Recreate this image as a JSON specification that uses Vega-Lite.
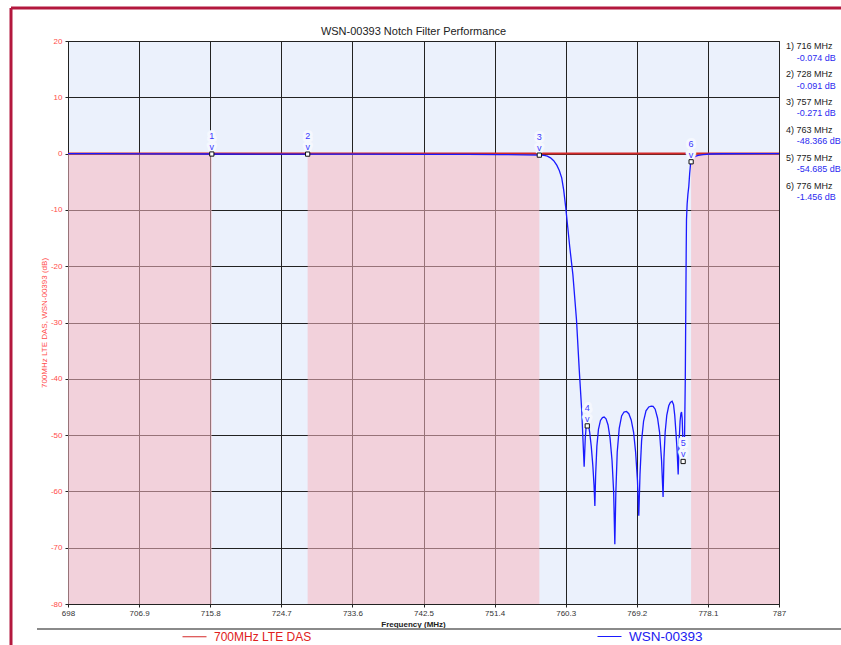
{
  "$schema": "https://vega.github.io/schema/vega-lite/v6.json",
  "width": 711,
  "height": 563,
  "autosize": {"type": "none"},
  "padding": {"left": 68, "top": 41, "right": 62, "bottom": 41},
  "background": "white",
  "config": {
    "font": "Liberation Sans",
    "view": {"stroke": "#222222", "strokeWidth": 1, "fill": "#ebf1fc"}
  },
  "title": {
    "text": "WSN-00393 Notch Filter Performance",
    "fontSize": 11,
    "fontWeight": "normal",
    "color": "#222222",
    "font": "Liberation Sans",
    "offset": -30,
    "dx": -10,
    "anchor": "middle"
  },
  "resolve": {"scale": {"y": "independent"}},
  "layer": [
    {
      "layer": [
        {
          "data": {"values": [{"f": 698, "f2": 716}, {"f": 728, "f2": 757}, {"f": 776, "f2": 787}]},
          "mark": {"type": "rect", "fill": "#f8b6c0", "opacity": 0.55},
          "encoding": {
            "x": {
              "field": "f",
              "type": "quantitative",
              "scale": {"domain": [698, 787], "nice": false, "zero": false},
              "axis": {
                "title": "Frequency (MHz)",
                "titleFontSize": 8,
                "titleFontWeight": "bold",
                "titleColor": "#222222",
                "titlePadding": 3,
                "titleX": 345,
                "values": [698, 702.45, 706.9, 711.35, 715.8, 720.25, 724.7, 729.15, 733.6, 738.05, 742.5, 746.95, 751.4, 755.85, 760.3, 764.75, 769.2, 773.65, 778.1, 782.55, 787],
                "labelExpr": "abs((datum.value - 698) / 8.9 - round((datum.value - 698) / 8.9)) < 0.01 ? format(datum.value, '~f') : ''",
                "labelFontSize": 8,
                "labelColor": "#333333",
                "labelPadding": 2,
                "labelFlush": false,
                "labelOverlap": false,
                "tickSize": 3,
                "tickColor": {"condition": {"test": "abs((datum.value - 698) / 8.9 - round((datum.value - 698) / 8.9)) < 0.01", "value": "#222222"}, "value": "transparent"},
                "grid": true,
                "gridColor": {"condition": {"test": "abs((datum.value - 698) / 8.9 - round((datum.value - 698) / 8.9)) < 0.01", "value": "#222222"}, "value": "#c6c6c6"},
                "domain": false
              }
            },
            "x2": {"field": "f2"},
            "y": {
              "datum": 0,
              "type": "quantitative",
              "scale": {"domain": [-80, 20], "nice": false, "zero": false},
              "axis": {
                "title": "700MHz LTE DAS, WSN-00393 (dB)",
                "titleColor": "#ff4b4b",
                "titleFontSize": 8,
                "titleFontWeight": "normal",
                "titlePadding": 2,
                "values": [-80, -75, -70, -65, -60, -55, -50, -45, -40, -35, -30, -25, -20, -15, -10, -5, 0, 5, 10, 15, 20],
                "labelExpr": "datum.value % 10 === 0 ? '' + datum.value : ''",
                "labelColor": "#ff4b4b",
                "labelFontSize": 8,
                "labelPadding": 3,
                "labelOverlap": false,
                "tickSize": 3,
                "tickColor": {"condition": {"test": "datum.value % 10 === 0", "value": "#222222"}, "value": "transparent"},
                "grid": true,
                "gridColor": {"condition": {"test": "datum.value % 10 === 0", "value": "#222222"}, "value": "#c6c6c6"},
                "domain": false
              }
            },
            "y2": {"datum": -80}
          }
        },
        {
          "data": {"values": [{"f": 698, "db": 0}, {"f": 787, "db": 0}]},
          "mark": {"type": "line", "strokeWidth": 2},
          "encoding": {
            "x": {"field": "f", "type": "quantitative"},
            "y": {"field": "db", "type": "quantitative"},
            "color": {
              "datum": "700MHz LTE DAS",
              "type": "nominal",
              "scale": {"domain": ["700MHz LTE DAS", "WSN-00393"], "range": ["#d42a2a", "#1a1aff"]},
              "legend": {
                "orient": "none",
                "legendX": 114,
                "legendY": 583,
                "direction": "horizontal",
                "columns": 2,
                "columnPadding": 283,
                "title": null,
                "symbolType": "stroke",
                "symbolSize": 576,
                "symbolStrokeWidth": 1,
                "labelFontSize": 13,
                "labelOffset": 7,
                "labelFont": "Liberation Sans",
                "encode": {"labels": {"update": {
                  "fill": {"signal": "datum.value === 'WSN-00393' ? '#2020f0' : '#e02020'"},
                  "fontSize": {"signal": "datum.value === 'WSN-00393' ? 13.5 : 12"}
                }}}
              }
            }
          }
        },
        {
          "data": {"values": [
            {"f": 698, "db": 0}, {"f": 702, "db": -0.02}, {"f": 708, "db": -0.04}, {"f": 716, "db": -0.074},
            {"f": 722, "db": -0.08}, {"f": 728, "db": -0.091}, {"f": 735, "db": -0.1}, {"f": 742, "db": -0.12},
            {"f": 748, "db": -0.15}, {"f": 752, "db": -0.18}, {"f": 755, "db": -0.22}, {"f": 757, "db": -0.271},
            {"f": 757.6, "db": -0.32}, {"f": 758.0, "db": -0.45}, {"f": 758.4, "db": -0.75}, {"f": 758.8, "db": -1.25},
            {"f": 759.2, "db": -2.1}, {"f": 759.5, "db": -3.0}, {"f": 759.8, "db": -4.3}, {"f": 760.05, "db": -6.5},
            {"f": 760.3, "db": -9.5}, {"f": 760.55, "db": -13}, {"f": 760.8, "db": -16.5}, {"f": 761.2, "db": -21.5},
            {"f": 761.65, "db": -29.5}, {"f": 762.0, "db": -38.5}, {"f": 762.3, "db": -45.5}, {"f": 762.61, "db": -55.6},
            {"f": 762.75, "db": -50.5}, {"f": 762.88, "db": -48.2}, {"f": 763.0, "db": -47.5}, {"f": 763.12, "db": -47.8},
            {"f": 763.3, "db": -49.5}, {"f": 763.5, "db": -52}, {"f": 763.7, "db": -55.5}, {"f": 763.85, "db": -59},
            {"f": 763.95, "db": -62.6}, {"f": 764.05, "db": -57}, {"f": 764.2, "db": -52}, {"f": 764.4, "db": -49},
            {"f": 764.65, "db": -47.4}, {"f": 764.9, "db": -46.9}, {"f": 765.11, "db": -46.8}, {"f": 765.35, "db": -47.1},
            {"f": 765.6, "db": -48.2}, {"f": 765.85, "db": -50.5}, {"f": 766.1, "db": -54.5}, {"f": 766.3, "db": -60},
            {"f": 766.45, "db": -69.4}, {"f": 766.58, "db": -60}, {"f": 766.75, "db": -53}, {"f": 767.0, "db": -48.8},
            {"f": 767.3, "db": -46.6}, {"f": 767.6, "db": -45.9}, {"f": 767.91, "db": -45.8}, {"f": 768.2, "db": -46.2},
            {"f": 768.5, "db": -47.3}, {"f": 768.8, "db": -49.5}, {"f": 769.05, "db": -53}, {"f": 769.28, "db": -58},
            {"f": 769.45, "db": -64.3}, {"f": 769.6, "db": -57}, {"f": 769.8, "db": -51}, {"f": 770.05, "db": -47.5},
            {"f": 770.35, "db": -45.7}, {"f": 770.7, "db": -45}, {"f": 771.0, "db": -44.85}, {"f": 771.24, "db": -44.9},
            {"f": 771.5, "db": -45.4}, {"f": 771.8, "db": -47}, {"f": 772.05, "db": -49.5}, {"f": 772.3, "db": -54.5},
            {"f": 772.49, "db": -61}, {"f": 772.6, "db": -54}, {"f": 772.75, "db": -49.5}, {"f": 772.95, "db": -46.5},
            {"f": 773.2, "db": -44.8}, {"f": 773.4, "db": -44.2}, {"f": 773.62, "db": -44.0}, {"f": 773.8, "db": -44.6},
            {"f": 773.95, "db": -46.5}, {"f": 774.1, "db": -49.5}, {"f": 774.24, "db": -52.6}, {"f": 774.38, "db": -57},
            {"f": 774.5, "db": -51}, {"f": 774.62, "db": -47.5}, {"f": 774.72, "db": -46.2}, {"f": 774.8, "db": -45.9},
            {"f": 774.88, "db": -47}, {"f": 774.95, "db": -50}, {"f": 775.0, "db": -54.685}, {"f": 775.1, "db": -53},
            {"f": 775.18, "db": -50}, {"f": 775.27, "db": -40}, {"f": 775.33, "db": -28}, {"f": 775.38, "db": -18},
            {"f": 775.42, "db": -11.7}, {"f": 775.5, "db": -9}, {"f": 775.6, "db": -7.2}, {"f": 775.71, "db": -5.8},
            {"f": 775.82, "db": -3.5}, {"f": 775.92, "db": -1.95}, {"f": 776.0, "db": -1.456}, {"f": 776.25, "db": -0.85},
            {"f": 776.5, "db": -0.5}, {"f": 776.9, "db": -0.3}, {"f": 777.5, "db": -0.17}, {"f": 778.4, "db": -0.07},
            {"f": 780, "db": -0.03}, {"f": 787, "db": 0}
          ]},
          "mark": {"type": "line", "strokeWidth": 1.3},
          "encoding": {
            "x": {"field": "f", "type": "quantitative"},
            "y": {"field": "db", "type": "quantitative"},
            "color": {"datum": "WSN-00393", "type": "nominal"}
          }
        },
        {
          "data": {"values": [
            {"m": "1", "f": 716, "db": -0.074},
            {"m": "2", "f": 728, "db": -0.091},
            {"m": "3", "f": 757, "db": -0.271},
            {"m": "4", "f": 763, "db": -48.366},
            {"m": "5", "f": 775, "db": -54.685},
            {"m": "6", "f": 776, "db": -1.456}
          ]},
          "encoding": {
            "x": {"field": "f", "type": "quantitative"},
            "y": {"field": "db", "type": "quantitative"}
          },
          "layer": [
            {"mark": {"type": "text", "fontSize": 9, "dy": -18, "baseline": "middle", "fill": "#f5f8fe", "stroke": "#f5f8fe", "strokeWidth": 6, "strokeJoin": "round"}, "encoding": {"text": {"field": "m"}}},
            {"mark": {"type": "text", "fontSize": 9, "dy": -7, "baseline": "middle", "fill": "#f5f8fe", "stroke": "#f5f8fe", "strokeWidth": 6, "strokeJoin": "round"}, "encoding": {"text": {"value": "v"}}},
            {"mark": {"type": "point", "shape": "square", "size": 18, "filled": true, "fill": "white", "stroke": "#111111", "strokeWidth": 1, "opacity": 1}},
            {"mark": {"type": "text", "fontSize": 9, "dy": -18, "baseline": "middle", "color": "#3a3aff"}, "encoding": {"text": {"field": "m"}}},
            {"mark": {"type": "text", "fontSize": 9, "dy": -7, "baseline": "middle", "color": "#3a3aff"}, "encoding": {"text": {"value": "v"}}}
          ]
        },
        {
          "data": {"values": [{}]},
          "mark": {"type": "rule", "color": "#b3183e", "strokeWidth": 3},
          "encoding": {"x": {"datum": 690.865}, "y": {"datum": 25.86}, "y2": {"datum": -95}}
        },
        {
          "data": {"values": [{}]},
          "mark": {"type": "rule", "color": "#b3183e", "strokeWidth": 3},
          "encoding": {"x": {"datum": 690.865}, "x2": {"datum": 800}, "y": {"datum": 25.86}}
        },
        {
          "data": {"values": [{}]},
          "mark": {"type": "rule", "color": "#8a8a8a", "strokeWidth": 2},
          "encoding": {"x": {"datum": 694.12}, "x2": {"datum": 800}, "y": {"datum": -84.44}}
        }
      ]
    },
    {
      "data": {"values": [
        {"slot": 0, "m": "1) 716 MHz", "d": "-0.074 dB"},
        {"slot": 1, "m": "2) 728 MHz", "d": "-0.091 dB"},
        {"slot": 2, "m": "3) 757 MHz", "d": "-0.271 dB"},
        {"slot": 3, "m": "4) 763 MHz", "d": "-48.366 dB"},
        {"slot": 4, "m": "5) 775 MHz", "d": "-54.685 dB"},
        {"slot": 5, "m": "6) 776 MHz", "d": "-1.456 dB"}
      ]},
      "encoding": {
        "x": {"datum": 787, "type": "quantitative"},
        "y": {"field": "slot", "type": "quantitative", "scale": {"domain": [-0.1786, 19.929], "reverse": true, "nice": false, "zero": false}, "axis": null}
      },
      "layer": [
        {"mark": {"type": "text", "align": "left", "baseline": "middle", "dx": 7, "fontSize": 9, "color": "#222222"}, "encoding": {"text": {"field": "m"}}},
        {"mark": {"type": "text", "align": "left", "baseline": "middle", "dx": 17.7, "dy": 11.5, "fontSize": 9, "color": "#2b2bf0"}, "encoding": {"text": {"field": "d"}}}
      ]
    }
  ]
}
